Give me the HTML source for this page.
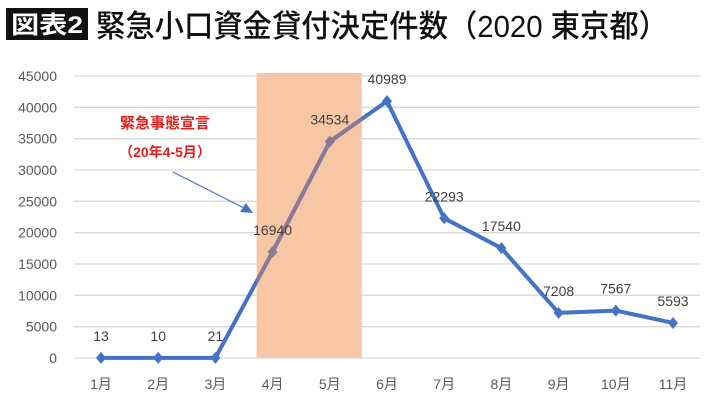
<!DOCTYPE html>
<html><head><meta charset="utf-8"><style>
body{margin:0;background:#fff;width:710px;height:402px;overflow:hidden}
svg text{font-family:"Liberation Sans","Noto Sans CJK JP",sans-serif}
</style></head><body>
<svg width="710" height="402">
<rect x="6" y="8" width="82" height="32" fill="#111"/>
<text x="47" y="33" fill="#fff" font-size="24" font-weight="bold" text-anchor="middle" textLength="72" lengthAdjust="spacingAndGlyphs">図表2</text>
<text x="96" y="37" fill="#111" font-size="31" font-weight="500" textLength="572" lengthAdjust="spacingAndGlyphs">緊急小口資金貸付決定件数（2020 東京都）</text>
<g id="grid"></g>
<g id="band"></g>
<g id="series"></g>
<g id="labels"></g>
<text x="165" y="128" fill="#e0201c" font-size="15" font-weight="bold" text-anchor="middle">緊急事態宣言</text>
<text x="165" y="157" fill="#e0201c" font-size="14" font-weight="bold" text-anchor="middle">（20年4-5月）</text>
<line x1="173" y1="172" x2="244" y2="208" stroke="#4472c4" stroke-width="1"/>
<polygon points="253,213 240,212 246,203" fill="#4472c4"/>
</svg>
<script>
const categories=["1月","2月","3月","4月","5月","6月","7月","8月","9月","10月","11月"];
const values=[13,10,21,16940,34534,40989,22293,17540,7208,7567,5593];
const yTicks=[0,5000,10000,15000,20000,25000,30000,35000,40000,45000];
const bandRange=[3,4];
const NS="http://www.w3.org/2000/svg";
const x=i=>101+i*57.2, y=v=>358-v*(282/45000);
function mk(tag,attrs,parent,txt){const e=document.createElementNS(NS,tag);for(const k in attrs)e.setAttribute(k,attrs[k]);if(txt!=null)e.textContent=txt;document.getElementById(parent).appendChild(e);return e;}
yTicks.forEach(t=>{
 const l=mk("line",{x1:74,x2:700,y1:y(t),y2:y(t),stroke:"#d9d9d9","stroke-width":1.3},"grid");
 
 
 const tx=mk("text",{x:57,y:y(t)+5,"font-size":14,fill:"#595959","text-anchor":"end"},"grid",t);
 
 
});
categories.forEach((c,i)=>{
 const tx=mk("text",{x:x(i),y:389,"font-size":14,fill:"#595959","text-anchor":"middle"},"grid",c);
 
 
});
const bx1=x(bandRange[0])-16,bx2=x(bandRange[1])+32;
const b=mk("rect",{x:bx1,y:73,width:bx2-bx1,height:358-73,fill:"#f7c7a5"},"band");


const pts=values.map((v,i)=>x(i)+","+y(v)).join(" ");
const defs=mk("defs",{},"series");
const cp=mk("clipPath",{id:"inb"},"series");defs.appendChild(cp);
const cr=document.createElementNS(NS,"rect");cr.setAttribute("x",bx1);cr.setAttribute("y",0);cr.setAttribute("width",bx2-bx1);cr.setAttribute("height",402);cp.appendChild(cr);
const ln=mk("polyline",{points:pts,fill:"none",stroke:"#4472c4","stroke-width":4,"stroke-linejoin":"round"},"series");


const ln2=mk("polyline",{points:pts,fill:"none",stroke:"#8b7a96","stroke-width":4,"stroke-linejoin":"round","clip-path":"url(#inb)"},"series");


values.forEach((v,i)=>{
 const inb=i>=bandRange[0]&&i<=bandRange[1];
 const cx=x(i),cy=y(v);
 const m=mk("polygon",{points:`${cx},${cy-6} ${cx+5},${cy} ${cx},${cy+6} ${cx-5},${cy}`,fill:inb?"#8b7a96":"#4472c4"},"series");
 
 
 const t=mk("text",{x:cx,y:cy-17,"font-size":14,fill:"#404040","text-anchor":"middle"},"labels",v);
 
 
});
</script>
</body></html>
